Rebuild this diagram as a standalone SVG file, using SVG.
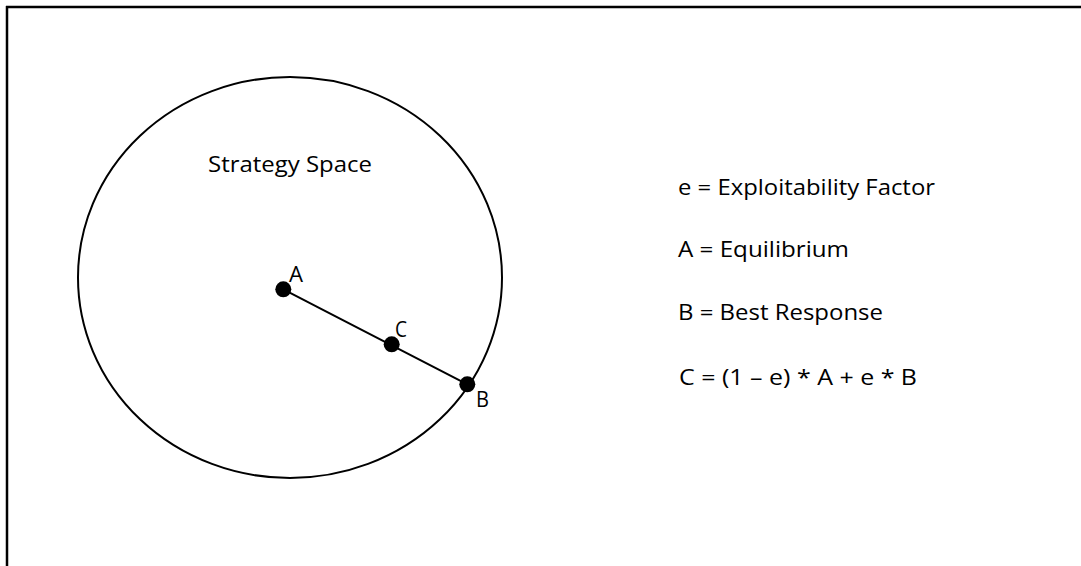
<svg xmlns="http://www.w3.org/2000/svg" width="1081" height="566" viewBox="0 0 1081 566">
<style>
text{font-family:"Open Sans","Noto Sans","Liberation Sans",sans-serif;fill:#000;font-weight:500}
.t{font-size:21px}
.l{font-size:21px}
.dot{fill:#000}
.edge{stroke:#000;stroke-width:2;fill:none}
</style>
<rect width="1081" height="566" fill="#fff"/>
<g id="frame">
<path d="M6,7 H1081 M7,6 V566" stroke="#000" stroke-width="2.5" fill="none"/>
</g>
<g id="strategy-space">
<ellipse cx="290" cy="277.5" rx="212" ry="200.5" fill="none" stroke="#000" stroke-width="2"/>
<text class="t" x="208" y="172" textLength="164" lengthAdjust="spacingAndGlyphs">Strategy Space</text>
</g>
<g id="connectors">
<line class="edge" x1="283.3" y1="289.3" x2="467.3" y2="384.3"/>
</g>
<g id="node-A">
<circle class="dot" cx="283.3" cy="289.3" r="8"/>
<text class="l" x="289" y="282" textLength="14" lengthAdjust="spacingAndGlyphs">A</text>
</g>
<g id="node-C">
<circle class="dot" cx="391.7" cy="344.3" r="8"/>
<text class="l" x="395" y="337" textLength="12" lengthAdjust="spacingAndGlyphs">C</text>
</g>
<g id="node-B">
<circle class="dot" cx="467.3" cy="384.3" r="8"/>
<text class="l" x="476" y="407" textLength="13" lengthAdjust="spacingAndGlyphs">B</text>
</g>
<g id="legend">
<text class="t" x="678" y="195" textLength="257" lengthAdjust="spacingAndGlyphs">e = Exploitability Factor</text>
<text class="t" x="678" y="257" textLength="171" lengthAdjust="spacingAndGlyphs">A = Equilibrium</text>
<text class="t" x="678" y="320" textLength="205" lengthAdjust="spacingAndGlyphs">B = Best Response</text>
<text class="t" x="679" y="385" textLength="238" lengthAdjust="spacingAndGlyphs">C = (1 – e) * A + e * B</text>
</g>
</svg>
